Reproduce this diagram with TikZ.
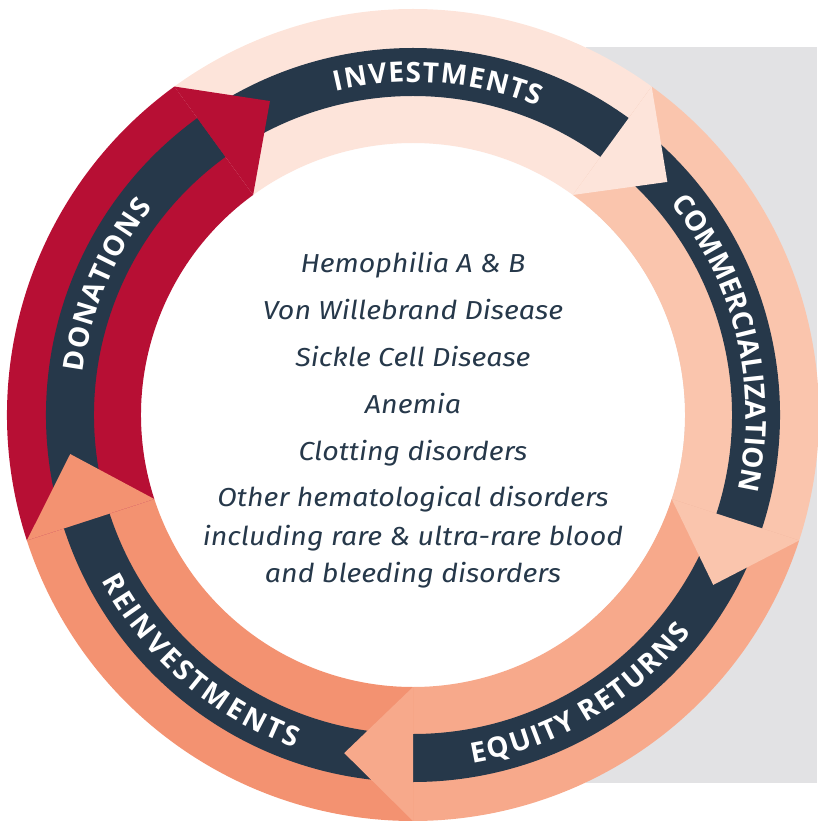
\documentclass[tikz,border=0pt]{standalone}
\usepackage{fontspec}
\usetikzlibrary{decorations.text}

\newfontfamily\labelfont{Open Sans}
\newfontfamily\listfont{Fira Sans}[FakeStretch=1.1]
\newcommand\labelstyle{\labelfont\bfseries\fontsize{28pt}{28pt}\selectfont}

\definecolor{navy}{HTML}{26384A}
\definecolor{invest}{HTML}{FDE4DA}
\definecolor{commerce}{HTML}{FAC5AD}
\definecolor{equity}{HTML}{F7A98B}
\definecolor{reinvest}{HTML}{F39271}
\definecolor{donate}{HTML}{B70F34}
\definecolor{backgray}{HTML}{E2E2E4}

\begin{document}
\begin{tikzpicture}[x=1pt,y=1pt,
    listline/.style={anchor=base,text=navy,inner sep=0pt,
        font=\listfont\itshape\fontsize{26pt}{26pt}\selectfont},
    ringlabel/.style={decorate,decoration={text effects along path,
        text={#1},
        text effects/.cd, text along path, fit text to path,
        characters={anchor=base,inner sep=0pt,text=white,font=\labelstyle}}}]
    \useasboundingbox (-413,-406) rectangle (404,415);

    \fill[backgray] (173,-368) rectangle (404,368);
    \fill[white] (0,0) circle[radius=272pt];

    % five ring segments, then the dark bands, then the heads
    \foreach \s/\e/\c in {126/54/invest,54/-18/commerce,-18/-90/equity,
                          -90/-162/reinvest,-162/-234/donate}{
        \fill[\c] (\s:272pt) arc[start angle=\s,end angle=\e,radius=272pt]
            -- (\e:406pt) arc[start angle=\e,end angle=\s,radius=406pt] -- cycle;
    }
    \foreach \s/\e in {126/54,54/-18,-18/-90,-90/-162,-162/-234}{
        \fill[navy] (\s:319pt) arc[start angle=\s,end angle=\e,radius=319pt]
            -- (\e:367pt) arc[start angle=\e,end angle=\s,radius=367pt] -- cycle;
    }
    \foreach \e/\c in {54/invest,-18/commerce,-90/equity,-162/reinvest,-234/donate}{
        \fill[\c] (\e:272pt) -- (\e:406pt) -- ({\e-11.5}:345pt) -- cycle;
    }

    \path[ringlabel=INVESTMENTS] (103.4:333pt) arc[start angle=103.4,end angle=67.9,radius=333pt];
    \path[ringlabel=COMMERCIALIZATION] (39.5:333pt) arc[start angle=39.5,end angle=-13,radius=333pt];
    \path[ringlabel={EQUITY RETURNS}] (-80.3:353pt) arc[start angle=-80.3,end angle=-38,radius=353pt];
    \path[ringlabel=REINVESTMENTS] (208:353pt) arc[start angle=208,end angle=250.5,radius=353pt];
    \path[ringlabel=DONATIONS] (172.7:333pt) arc[start angle=172.7,end angle=141.5,radius=333pt];

    \node[listline] (hemo) at (0,142) {Hemophilia A \& B};
    \node[listline] (vwd) at (0,95) {Von Willebrand Disease};
    \node[listline] (sickle) at (0,48) {Sickle Cell Disease};
    \node[listline] (anemia) at (0,1) {Anemia};
    \node[listline] (clot) at (0,-46) {Clotting disorders};
    \node[listline] (other) at (0,-92) {Other hematological disorders};
    \node[listline] (rare) at (0,-130) {including rare \& ultra-rare blood};
    \node[listline] (bleed) at (0,-167) {and bleeding disorders};
\end{tikzpicture}
\end{document}
